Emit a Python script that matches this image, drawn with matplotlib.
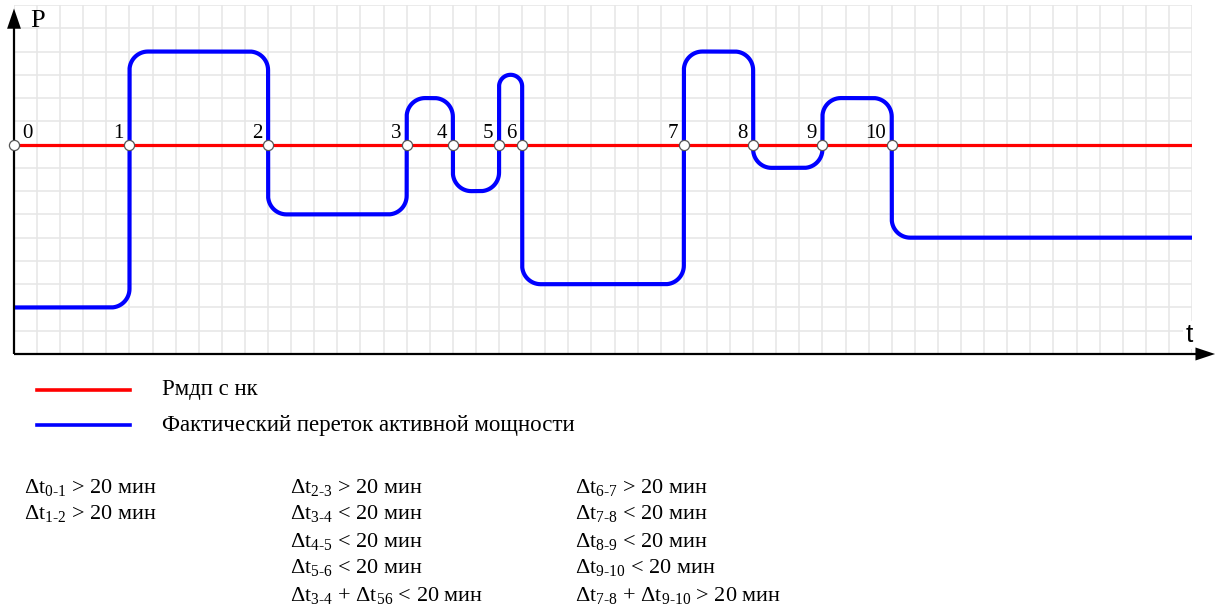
import numpy as np
import matplotlib
matplotlib.use("Agg")
import matplotlib.pyplot as plt
from matplotlib.lines import Line2D
from matplotlib.patches import Polygon

plt.rcParams["font.family"] = ["Liberation Serif", "DejaVu Serif"]
plt.rcParams["mathtext.fontset"] = "custom"
plt.rcParams["mathtext.rm"] = "Liberation Serif"
plt.rcParams["mathtext.it"] = "Liberation Serif:italic"
plt.rcParams["mathtext.bf"] = "Liberation Serif:bold"

# moments where the actual flow crosses the limit (grid cells)
point_times = [0, 5, 11, 17, 19, 21, 22, 29, 32, 35, 38]
point_labels = ["0", "1", "2", "3", "4", "5", "6", "7", "8", "9", "10"]
# level of actual flow after each point (grid cells)
flow_levels = [2, 13, 6, 11, 7, 12, 3, 13, 8, 11, 5]
limit_level = 9
t_end = 51
p_top = 15

legend_labels = ["Рмдп с нк", "Фактический переток активной мощности"]

col1 = ["Δt$_{\\mathrm{0‐1}}$ > 20 мин",
        "Δt$_{\\mathrm{1‐2}}$ > 20 мин"]
col2 = ["Δt$_{\\mathrm{2‐3}}$ > 20 мин",
        "Δt$_{\\mathrm{3‐4}}$ < 20 мин",
        "Δt$_{\\mathrm{4‐5}}$ < 20 мин",
        "Δt$_{\\mathrm{5‐6}}$ < 20 мин",
        "Δt$_{\\mathrm{3‐4}}$ + Δt$_{\\mathrm{56}}$ < 20 мин"]
col3 = ["Δt$_{\\mathrm{6‐7}}$ > 20 мин",
        "Δt$_{\\mathrm{7‐8}}$ < 20 мин",
        "Δt$_{\\mathrm{8‐9}}$ < 20 мин",
        "Δt$_{\\mathrm{9‐10}}$ < 20 мин",
        "Δt$_{\\mathrm{7‐8}}$ + Δt$_{\\mathrm{9‐10}}$ > 20 мин"]

W, H = 1215, 611


def fx(x):
    return x / W


def fy(y):
    return 1 - y / H


def rounded_steps(times, levels, end, r=0.8, n=16):
    verts = [(times[0], levels[0])]
    for t, a, b in zip(times[1:], levels[:-1], levels[1:]):
        verts.append((t, a))
        verts.append((t, b))
    verts.append((end, levels[-1]))
    verts = np.array(verts, dtype=float)
    out = [verts[0]]
    for i in range(1, len(verts) - 1):
        p = verts[i]
        d_in = p - verts[i - 1]
        d_out = verts[i + 1] - p
        l_in = np.hypot(*d_in)
        l_out = np.hypot(*d_out)
        d_in /= l_in
        d_out /= l_out
        rr = min(r, l_in / 2, l_out / 2)
        c = p - d_in * rr + d_out * rr
        s = np.linspace(0, np.pi / 2, n)
        arc = c + rr * (-np.outer(np.cos(s), d_out) + np.outer(np.sin(s), d_in))
        out.extend(arc)
    out.append(verts[-1])
    return np.array(out)


fig = plt.figure(figsize=(W / 100, H / 100), dpi=100)
ax = fig.add_axes([fx(14), fy(354), fx(1178), 349 / H])
ax.set_xlim(0, t_end)
ax.set_ylim(0, p_top)
ax.set_xticks(range(t_end + 1))
ax.set_yticks(range(p_top + 1))
ax.grid(True, color="#e6e6e6", linewidth=1.1)
ax.tick_params(length=0, labelbottom=False, labelleft=False)
for s in ax.spines.values():
    s.set_visible(False)

# limit line and actual flow
ax.plot([0, t_end], [limit_level, limit_level], color="#ff0000", lw=2.3,
        solid_capstyle="butt", zorder=3)
path = rounded_steps(point_times, flow_levels, t_end)
ax.plot(path[:, 0], path[:, 1], color="#0000ff", lw=3.0,
        solid_capstyle="butt", solid_joinstyle="round", zorder=4)
ax.plot(point_times, [limit_level] * len(point_times), "o", ms=7.3,
        mfc="white", mec="#555555", mew=0.9, zorder=9, clip_on=False)

for t, lab in zip(point_times, point_labels):
    if t == 0:
        ax.annotate(lab, (t, limit_level), xytext=(6, 5), textcoords="offset points",
                    ha="left", va="baseline", fontsize=15)
    else:
        ax.annotate(lab, (t, limit_level), xytext=(-4, 5), textcoords="offset points",
                    ha="right", va="baseline", fontsize=15)

# axes with arrows
ax.plot([0, 0], [0, 14.3], color="black", lw=1.6, clip_on=False, zorder=7,
        solid_capstyle="butt")
ax.plot([0, 51.4], [0, 0], color="black", lw=1.6, clip_on=False, zorder=7,
        solid_capstyle="butt")
ax.add_patch(Polygon([(-0.3, 13.98), (0.3, 13.98), (0, 14.85)], closed=True,
                     fc="black", ec="none", clip_on=False, zorder=8))
ax.add_patch(Polygon([(51.15, 0.28), (51.15, -0.28), (52.0, 0)], closed=True,
                     fc="black", ec="none", clip_on=False, zorder=8))
ax.text(0.7, 14.04, "P", fontsize=19, ha="left", va="baseline", zorder=8)
ax.text(50.72, 0.53, "t", fontsize=19, ha="left", va="baseline",
        family="Liberation Sans", zorder=8, clip_on=False,
        bbox=dict(fc="white", ec="none", pad=1.5))

# legend
for y, color, lab in zip([390, 425], ["#ff0000", "#0000ff"], legend_labels):
    fig.add_artist(Line2D([fx(37), fx(130)], [fy(y), fy(y)], color=color, lw=2.6,
                          transform=fig.transFigure))
    fig.text(fx(162), fy(y), lab, fontsize=16.5, ha="left", va="center")

# conditions
for x0, col in zip([24, 290, 575], [col1, col2, col3]):
    for i, line in enumerate(col):
        fig.text(fx(x0), fy(487 + 27 * i), line, fontsize=16, ha="left",
                 va="center")

fig.savefig("out.png", dpi=100, facecolor="white")
